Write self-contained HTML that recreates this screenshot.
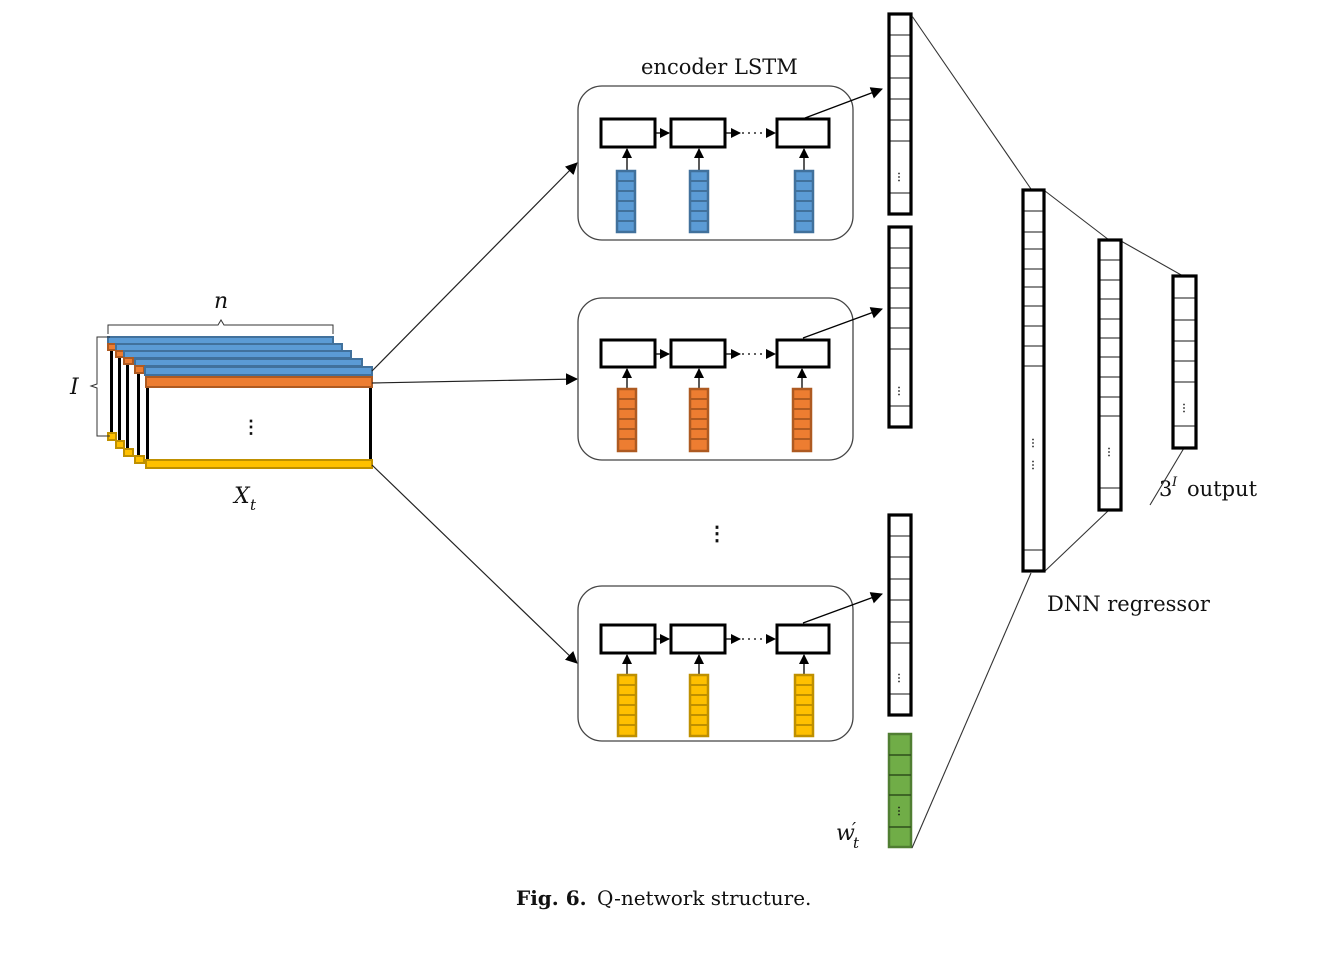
<!DOCTYPE html>
<html><head><meta charset="utf-8"><style>
body{margin:0;background:#fff}
svg{display:block}
text{font-family:"DejaVu Serif","Liberation Serif",serif;fill:#111}
</style></head><body>
<svg width="1340" height="956" viewBox="0 0 1340 956" xmlns="http://www.w3.org/2000/svg">
<defs>
<marker id="ah" markerWidth="12" markerHeight="12" refX="11" refY="6" orient="auto" markerUnits="userSpaceOnUse"><path d="M0,0 L12,6 L0,12 z" fill="#000"/></marker>
<marker id="as" markerWidth="10" markerHeight="10" refX="9" refY="5" orient="auto" markerUnits="userSpaceOnUse"><path d="M0,0 L10,5 L0,10 z" fill="#000"/></marker>
</defs>

<!-- stacked matrices -->
<g stroke-width="2">
<g>
<rect x="110" y="345" width="3" height="90" fill="#000" stroke="none"/>
<rect x="108" y="337" width="225" height="7" fill="#5b9bd5" stroke="#41719c"/>
<rect x="108" y="344" width="8" height="6" fill="#ed7d31" stroke="#ae5a21"/>
<rect x="108" y="433" width="8" height="7" fill="#ffc000" stroke="#bf9000"/>
</g>
<g>
<rect x="118" y="352" width="3" height="90" fill="#000" stroke="none"/>
<rect x="116" y="344" width="226" height="7" fill="#5b9bd5" stroke="#41719c"/>
<rect x="116" y="351" width="8" height="6" fill="#ed7d31" stroke="#ae5a21"/>
<rect x="116" y="441" width="8" height="7" fill="#ffc000" stroke="#bf9000"/>
</g>
<g>
<rect x="126" y="359" width="3" height="90" fill="#000" stroke="none"/>
<rect x="124" y="351" width="227" height="7" fill="#5b9bd5" stroke="#41719c"/>
<rect x="124" y="358" width="9" height="6" fill="#ed7d31" stroke="#ae5a21"/>
<rect x="124" y="449" width="9" height="7" fill="#ffc000" stroke="#bf9000"/>
</g>
<g>
<rect x="137" y="366" width="3" height="90" fill="#000" stroke="none"/>
<rect x="135" y="359" width="227" height="7" fill="#5b9bd5" stroke="#41719c"/>
<rect x="135" y="366" width="9" height="7" fill="#ed7d31" stroke="#ae5a21"/>
<rect x="135" y="456" width="9" height="7" fill="#ffc000" stroke="#bf9000"/>
</g>
<rect x="145" y="367" width="227" height="8" fill="#5b9bd5" stroke="#41719c"/>
<rect x="146" y="385" width="3" height="77" fill="#000" stroke="none"/>
<rect x="369" y="385" width="3" height="77" fill="#000" stroke="none"/>
<rect x="146" y="377" width="226" height="10" fill="#ed7d31" stroke="#ae5a21"/>
<rect x="146" y="460" width="226" height="8" fill="#ffc000" stroke="#bf9000"/>
</g>
<text x="251" y="433" font-size="18" text-anchor="middle" font-weight="bold">⋮</text>
<path d="M108,334 L108,325 L218,325 L221,320 L224,325 L333,325 L333,334" fill="none" stroke="#333" stroke-width="1"/>
<path d="M110,337 L97,337 L97,384 L91,386 L97,388 L97,436 L110,436" fill="none" stroke="#333" stroke-width="1"/>
<text x="214" y="308" font-size="22" font-style="italic">n</text>
<text x="70" y="394" font-size="22" font-style="italic">I</text>
<text x="234" y="503" font-size="22" font-style="italic">X</text>
<text x="250" y="510" font-size="15" font-style="italic">t</text>

<g stroke="#222" stroke-width="1.2" fill="none">
<line x1="372" y1="371" x2="577" y2="163" marker-end="url(#ah)"/>
<line x1="372" y1="383" x2="577" y2="379" marker-end="url(#ah)"/>
<line x1="372" y1="465" x2="577" y2="663" marker-end="url(#ah)"/>
</g>

<text x="641" y="74" font-size="21">encoder LSTM</text>

<g>
<rect x="578" y="86" width="275" height="154" rx="24" fill="none" stroke="#444" stroke-width="1.3"/>
<g stroke="#000" stroke-width="3" fill="#fff">
<rect x="601" y="119" width="54" height="28"/><rect x="671" y="119" width="54" height="28"/><rect x="777" y="119" width="52" height="28"/>
</g>
<g stroke="#000" stroke-width="1.3">
<line x1="655" y1="133" x2="669" y2="133" marker-end="url(#as)"/>
<line x1="725" y1="133" x2="740" y2="133" marker-end="url(#as)"/>
<line x1="742" y1="133" x2="775" y2="133" stroke-dasharray="2 4" marker-end="url(#as)"/>
<line x1="627" y1="171" x2="627" y2="149" marker-end="url(#as)"/>
<line x1="699" y1="171" x2="699" y2="149" marker-end="url(#as)"/>
<line x1="804" y1="171" x2="804" y2="149" marker-end="url(#as)"/>
<line x1="805" y1="118" x2="882" y2="89" marker-end="url(#ah)"/>
</g>
<g fill="#5b9bd5" stroke="#41719c" stroke-width="2.5">
<rect x="617" y="171" width="18" height="61"/><rect x="690" y="171" width="18" height="61"/><rect x="795" y="171" width="18" height="61"/>
</g>
<g stroke="#41719c" stroke-width="2">
<path d="M617,181h18M617,191h18M617,201h18M617,211h18M617,221h18M690,181h18M690,191h18M690,201h18M690,211h18M690,221h18M795,181h18M795,191h18M795,201h18M795,211h18M795,221h18"/>
</g>
</g>

<g>
<rect x="578" y="298" width="275" height="162" rx="24" fill="none" stroke="#444" stroke-width="1.3"/>
<g stroke="#000" stroke-width="3" fill="#fff">
<rect x="601" y="340" width="54" height="27"/><rect x="671" y="340" width="54" height="27"/><rect x="777" y="340" width="52" height="27"/>
</g>
<g stroke="#000" stroke-width="1.3">
<line x1="655" y1="354" x2="669" y2="354" marker-end="url(#as)"/>
<line x1="725" y1="354" x2="740" y2="354" marker-end="url(#as)"/>
<line x1="742" y1="354" x2="775" y2="354" stroke-dasharray="2 4" marker-end="url(#as)"/>
<line x1="627" y1="389" x2="627" y2="369" marker-end="url(#as)"/>
<line x1="699" y1="389" x2="699" y2="369" marker-end="url(#as)"/>
<line x1="802" y1="389" x2="802" y2="369" marker-end="url(#as)"/>
<line x1="803" y1="338" x2="882" y2="309" marker-end="url(#ah)"/>
</g>
<g fill="#ed7d31" stroke="#ae5a21" stroke-width="2.5">
<rect x="618" y="389" width="18" height="62"/><rect x="690" y="389" width="18" height="62"/><rect x="793" y="389" width="18" height="62"/>
</g>
<g stroke="#ae5a21" stroke-width="2">
<path d="M618,399h18M618,409h18M618,419h18M618,429h18M618,439h18M690,399h18M690,409h18M690,419h18M690,429h18M690,439h18M793,399h18M793,409h18M793,419h18M793,429h18M793,439h18"/>
</g>
</g>

<text x="717" y="540" font-size="20" text-anchor="middle" font-weight="bold">⋮</text>

<g>
<rect x="578" y="586" width="275" height="155" rx="24" fill="none" stroke="#444" stroke-width="1.3"/>
<g stroke="#000" stroke-width="3" fill="#fff">
<rect x="601" y="625" width="54" height="28"/><rect x="671" y="625" width="54" height="28"/><rect x="777" y="625" width="52" height="28"/>
</g>
<g stroke="#000" stroke-width="1.3">
<line x1="655" y1="639" x2="669" y2="639" marker-end="url(#as)"/>
<line x1="725" y1="639" x2="740" y2="639" marker-end="url(#as)"/>
<line x1="742" y1="639" x2="775" y2="639" stroke-dasharray="2 4" marker-end="url(#as)"/>
<line x1="627" y1="675" x2="627" y2="655" marker-end="url(#as)"/>
<line x1="699" y1="675" x2="699" y2="655" marker-end="url(#as)"/>
<line x1="804" y1="675" x2="804" y2="655" marker-end="url(#as)"/>
<line x1="803" y1="623" x2="882" y2="594" marker-end="url(#ah)"/>
</g>
<g fill="#ffc000" stroke="#bf9000" stroke-width="2.5">
<rect x="618" y="675" width="18" height="61"/><rect x="690" y="675" width="18" height="61"/><rect x="795" y="675" width="18" height="61"/>
</g>
<g stroke="#bf9000" stroke-width="2">
<path d="M618,685h18M618,695h18M618,705h18M618,715h18M618,725h18M690,685h18M690,695h18M690,705h18M690,715h18M690,725h18M795,685h18M795,695h18M795,705h18M795,715h18M795,725h18"/>
</g>
</g>

<g stroke="#444" stroke-width="1.2">
<path d="M889,35h22M889,56h22M889,78h22M889,99h22M889,120h22M889,141h22M889,193h22"/>
<path d="M889,248h22M889,268h22M889,288h22M889,308h22M889,328h22M889,349h22M889,406h22"/>
<path d="M889,536h22M889,557h22M889,579h22M889,600h22M889,622h22M889,643h22M889,694h22"/>
</g>
<g fill="none" stroke="#000" stroke-width="3.2">
<rect x="889" y="14" width="22" height="200"/>
<rect x="889" y="227" width="22" height="200"/>
<rect x="889" y="515" width="22" height="200"/>
</g>
<rect x="889" y="734" width="22" height="113" fill="#70ad47" stroke="#507e32" stroke-width="2.5"/>
<path d="M889,755h22M889,775h22M889,795h22M889,827h22" stroke="#2e4f1c" stroke-width="1.5"/>
<g font-size="10" font-weight="bold" text-anchor="middle">
<text x="899" y="180">⋮</text><text x="899" y="394">⋮</text><text x="899" y="681">⋮</text><text x="899" y="814">⋮</text>
</g>
<text x="836" y="840" font-size="22" font-style="italic">w</text>
<text x="852" y="835" font-size="18" font-style="italic">′</text>
<text x="853" y="848" font-size="15" font-style="italic">t</text>

<g stroke="#333" stroke-width="1.1">
<line x1="912" y1="16" x2="1031" y2="189"/>
<line x1="912" y1="848" x2="1031" y2="573"/>
<line x1="1045" y1="191" x2="1109" y2="240"/>
<line x1="1045" y1="571" x2="1109" y2="510"/>
<line x1="1121" y1="241" x2="1183" y2="276"/>
<line x1="1184" y1="448" x2="1150" y2="505"/>
</g>
<g stroke="#444" stroke-width="1.2">
<path d="M1023,211h21M1023,232h21M1023,249h21M1023,269h21M1023,287h21M1023,306h21M1023,326h21M1023,346h21M1023,366h21M1023,550h21"/>
<path d="M1099,260h22M1099,280h22M1099,299h22M1099,319h22M1099,338h22M1099,357h22M1099,377h22M1099,397h22M1099,416h22M1099,488h22"/>
<path d="M1173,298h23M1173,320h23M1173,341h23M1173,361h23M1173,382h23M1173,426h23"/>
</g>
<g fill="none" stroke="#000" stroke-width="3.2">
<rect x="1023" y="190" width="21" height="381"/>
<rect x="1099" y="240" width="22" height="270"/>
<rect x="1173" y="276" width="23" height="172"/>
</g>
<g font-size="10" font-weight="bold" text-anchor="middle">
<text x="1033" y="446">⋮</text><text x="1033" y="468">⋮</text><text x="1109" y="455">⋮</text><text x="1184" y="411">⋮</text>
</g>
<text x="1047" y="611" font-size="21">DNN regressor</text>
<text x="1159" y="496" font-size="21">3</text>
<text x="1172" y="486" font-size="13" font-style="italic">I</text>
<text x="1187" y="496" font-size="21">output</text>

<text x="516" y="905" font-size="20"><tspan font-weight="bold">Fig. 6.</tspan> <tspan dx="4">Q-network structure.</tspan></text>
</svg>
</body></html>
